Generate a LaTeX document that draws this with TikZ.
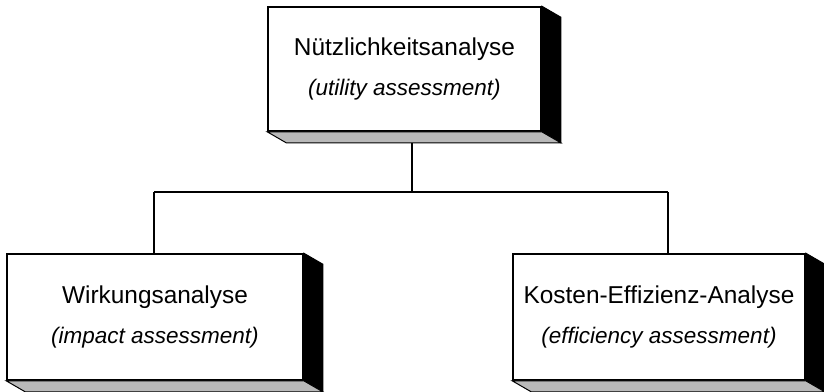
\documentclass[tikz,border=0pt]{standalone}
\usepackage{fontspec}
\setmainfont{Liberation Sans}
\newcommand{\engl}[1]{{\fontsize{22.5}{40}\selectfont\itshape #1}}
\begin{document}
\begin{tikzpicture}[x=1pt,y=-1pt,
  frontface/.style={draw=black, line width=1.6pt, fill=white, align=center,
    inner sep=0pt, font=\fontsize{24.4}{40}\selectfont},
  sideface/.style={draw=black, line width=1pt, fill=black},
  floorface/.style={draw=black, line width=1pt, fill=gray!55},
  link/.style={draw=black, line width=1.6pt}]
\useasboundingbox (0,0) rectangle (824,391);

% connector tree
\coordinate (stem) at (412,143);
\coordinate (fork) at (412,192);
\coordinate (forkL) at (154,192);
\coordinate (forkR) at (668,192);
\coordinate (endL) at (154,254);
\coordinate (endR) at (668,253);
\draw[link] (stem) -- (fork);
\draw[link] (forkL) -- (forkR);
\draw[link] (forkL) -- (endL);
\draw[link] (forkR) -- (endR);

% boxes: front faces
\node[frontface, minimum width=273pt, minimum height=124pt] (nutz) at (404.5,69)
  {Nützlichkeitsanalyse\\\engl{(utility assessment)}};
\node[frontface, minimum width=296pt, minimum height=126pt] (wirk) at (155,317)
  {Wirkungsanalyse\\\engl{(impact assessment)}};
\node[frontface, minimum width=292pt, minimum height=126pt] (kost) at (659,317)
  {Kosten-Effizienz-Analyse\\\engl{(efficiency assessment)}};

% extruded sides: black right face, grey bottom face
\foreach \b in {nutz,wirk,kost}{
  \draw[sideface] (\b.north east) -- ([shift={(19,11)}]\b.north east)
    -- ([shift={(19,11)}]\b.south east) -- (\b.south east) -- cycle;
  \draw[floorface] (\b.south west) -- (\b.south east)
    -- ([shift={(19,11)}]\b.south east) -- ([shift={(19,11)}]\b.south west) -- cycle;
}
\end{tikzpicture}
\end{document}
